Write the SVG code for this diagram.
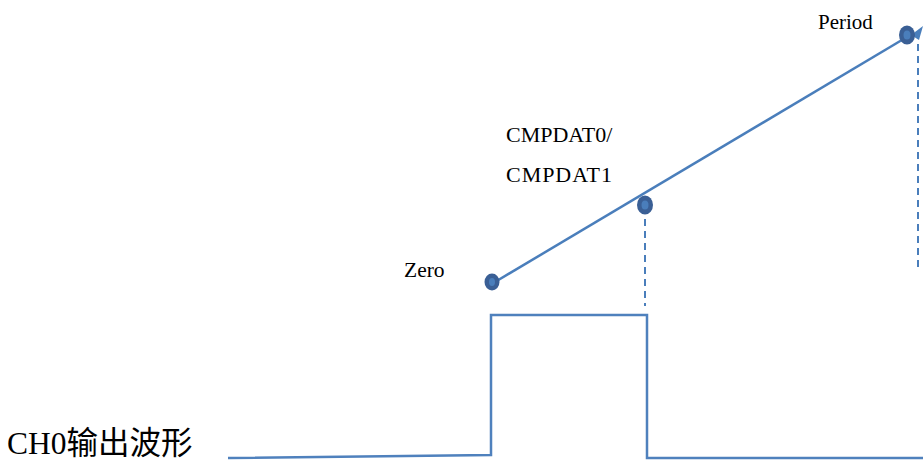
<svg xmlns="http://www.w3.org/2000/svg" width="923" height="462" viewBox="0 0 923 462">
<style>
.lbl{font-family:"Liberation Serif","Noto Sans CJK SC",serif;fill:#000}
.ln{stroke:#4A7EBB;stroke-width:2.5;fill:none}
.dash{stroke:#4A7EBB;stroke-width:2;fill:none;stroke-dasharray:7 5}
.wave{stroke:#4F81BD;stroke-width:2.5;fill:none}
.dotO{fill:#3A5F95}
.dotI{fill:#4A7EBB}
</style>
<rect width="923" height="462" fill="#fff"/>
<g id="connectors">
<line class="ln" x1="495" y1="282" x2="912" y2="34"/>
<polygon points="911,35 923,26 919,40" fill="#4A7EBB"/>
<line class="dash" x1="645" y1="219" x2="645" y2="306"/>
<line class="dash" x1="918" y1="44" x2="918" y2="272"/>
<polyline class="wave" points="228,458 491,455 491,315 647,315 647,458 923,458"/>
</g>
<g id="zero">
<ellipse class="dotO" cx="492" cy="282" rx="7.5" ry="8.5"/>
<ellipse class="dotI" cx="492" cy="282" rx="3" ry="4"/>
<text class="lbl" x="404" y="277" font-size="21.5">Zero</text>
</g>
<g id="cmp">
<ellipse class="dotO" cx="645" cy="205" rx="8" ry="9.5"/>
<ellipse class="dotI" cx="645" cy="205" rx="3.5" ry="4.5"/>
<text class="lbl" x="506" y="142" font-size="22">CMPDAT0/</text>
<text class="lbl" x="506" y="182" font-size="22" textLength="106" lengthAdjust="spacing">CMPDAT1</text>
</g>
<g id="period">
<ellipse class="dotO" cx="907" cy="35" rx="8" ry="9.5"/>
<ellipse class="dotI" cx="907" cy="35" rx="3.5" ry="4.5"/>
<text class="lbl" x="818" y="29" font-size="21">Period</text>
</g>
<g id="ch0">
<text class="lbl" x="7" y="454" font-size="31.5">CH0输出波形</text>
</g>
</svg>
